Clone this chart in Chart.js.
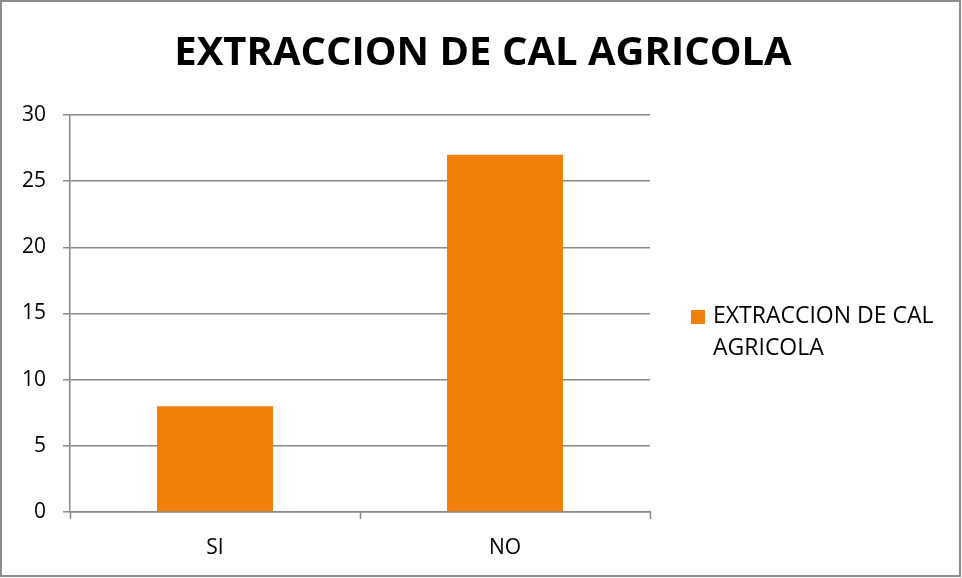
<!DOCTYPE html>
<html>
<head>
<meta charset="utf-8">
<script src="https://cdn.jsdelivr.net/npm/chart.js@4/dist/chart.umd.min.js"></script>
<style>
html,body{margin:0;padding:0;background:#fff;}
#wrap{width:962px;height:578px;position:relative;}
</style>
</head>
<body>
<div id="wrap"><canvas id="c" width="962" height="578"></canvas></div>
<script>
const titleText = "EXTRACCION DE CAL AGRICOLA";
const categories = ["SI", "NO"];
const seriesName = "EXTRACCION DE CAL AGRICOLA";
const seriesLegendLines = ["EXTRACCION DE CAL", "AGRICOLA"];
const values = [8, 27];
const yTicks = [0, 5, 10, 15, 20, 25, 30];

const barColor = "#F0800A";
const gridColor = "#888888";
const fontFam = "'Open Sans', 'Liberation Sans', sans-serif";

const decor = {
  id: "decor",
  afterDraw(chart) {
    const ctx = chart.ctx;
    const area = chart.chartArea;
    ctx.save();
    // outer border
    ctx.strokeStyle = "#8c8c8c";
    ctx.lineWidth = 2;
    ctx.strokeRect(1, 1, 959, 575);
    // title
    ctx.fillStyle = "#000";
    ctx.font = "bold 40px " + fontFam;
    ctx.textAlign = "center";
    ctx.textBaseline = "middle";
    ctx.fillText(titleText, 483, 54);
    // x-axis tick marks at category boundaries
    ctx.strokeStyle = gridColor;
    ctx.lineWidth = 1.5;
    const n = categories.length;
    for (let i = 0; i <= n; i++) {
      const px = Math.round(area.left + (area.right - area.left) * i / n) + 0.5;
      ctx.beginPath();
      ctx.moveTo(px, area.bottom);
      ctx.lineTo(px, area.bottom + 7);
      ctx.stroke();
    }
    // legend
    const lx = 691, ly = 310;
    ctx.fillStyle = barColor;
    ctx.fillRect(lx, ly, 14, 14);
    ctx.fillStyle = "#000";
    ctx.font = "23px " + fontFam;
    ctx.textBaseline = "middle";
    ctx.textAlign = "left";
    seriesLegendLines.forEach((t, i) => ctx.fillText(t, 713, ly + 6 + i * 32));
    ctx.restore();
  }
};

new Chart(document.getElementById("c"), {
  type: "bar",
  data: {
    labels: categories,
    datasets: [{
      label: seriesName,
      data: values,
      backgroundColor: barColor,
      borderWidth: 0,
      categoryPercentage: 0.4,
      barPercentage: 1.0
    }]
  },
  options: {
    responsive: false,
    animation: false,
    devicePixelRatio: 1,
    layout: { padding: { left: 0, right: 312, top: 115, bottom: 0 } },
    plugins: {
      legend: { display: false },
      tooltip: { enabled: false },
      title: { display: false }
    },
    scales: {
      x: {
        grid: { display: false, drawTicks: false },
        border: { display: true, color: gridColor, width: 1.5 },
        ticks: { color: "#000", font: { family: fontFam, size: 21 }, padding: 23 },
        afterFit(s) { s.height = 66; }
      },
      y: {
        min: 0, max: 30,
        afterBuildTicks(s) { s.ticks = yTicks.map(v => ({ value: v })); },
        grid: { color: gridColor, lineWidth: 1.5, tickLength: 7, drawTicks: true },
        border: { display: true, color: gridColor, width: 1.5 },
        ticks: { color: "#000", font: { family: fontFam, size: 21 }, padding: 17 },
        afterFit(s) { s.width = 70; }
      }
    }
  },
  plugins: [decor]
});
</script>
</body>
</html>
